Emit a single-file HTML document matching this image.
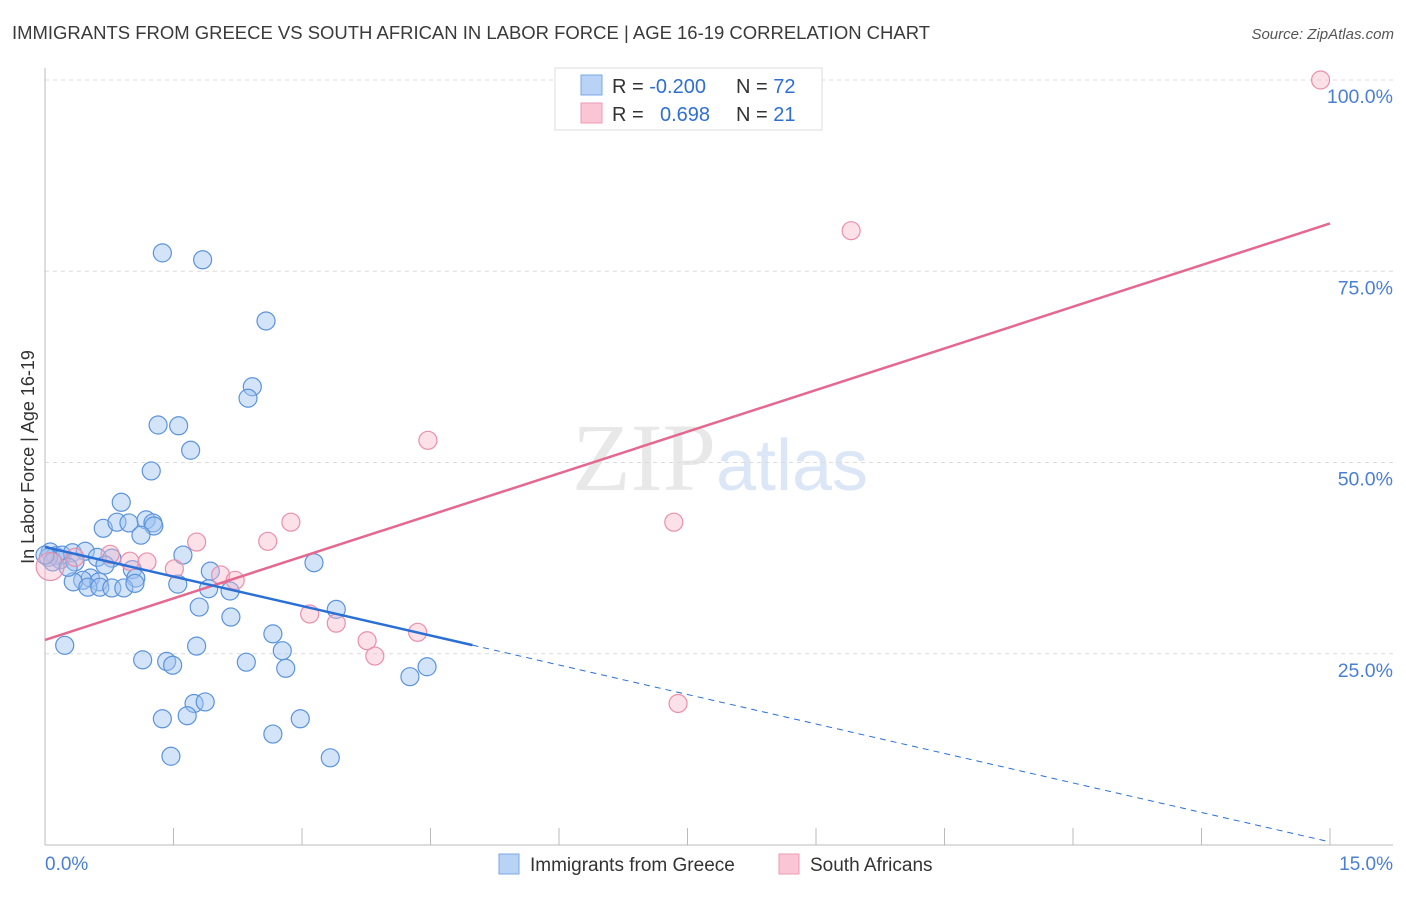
<!DOCTYPE html>
<html><head><meta charset="utf-8"><style>
body{margin:0;background:#fff;font-family:"Liberation Sans",sans-serif}
</style></head><body>
<svg id="chart" width="1406" height="892" xmlns="http://www.w3.org/2000/svg" font-family="Liberation Sans, sans-serif">
<text x="12" y="39" font-size="18" fill="#3a3a3a" textLength="918" lengthAdjust="spacingAndGlyphs">IMMIGRANTS FROM GREECE VS SOUTH AFRICAN IN LABOR FORCE | AGE 16-19 CORRELATION CHART</text>
<text x="1394" y="39" font-size="15" fill="#555" text-anchor="end" font-style="italic">Source: ZipAtlas.com</text>
<text x="720" y="490" font-size="96" fill="#e8e8e8" text-anchor="middle" font-family="Liberation Serif, serif">ZIP<tspan fill="#dbe6f6" font-family="Liberation Sans, sans-serif" font-size="72">atlas</tspan></text>
<g id="grid"></g>
<g id="axes"></g>
<g id="marks"></g>
<text transform="translate(34,457) rotate(-90)" font-size="18" fill="#333" text-anchor="middle">In Labor Force | Age 16-19</text>
<text x="45" y="870" font-size="19" fill="#4a7fd4">0.0%</text>
<text x="1393" y="870" font-size="19" fill="#4a7fd4" text-anchor="end">15.0%</text>
<g>
<rect x="555" y="68" width="267" height="62" fill="#fff" stroke="#ddd"/>
<rect x="581" y="75" width="21" height="20" fill="#b8d3f5" stroke="#7aa8e6"/>
<rect x="581" y="103" width="21" height="20" fill="#fac6d6" stroke="#ef9ab3"/>
<text x="612" y="93" font-size="20" fill="#333">R = <tspan fill="#2f6fd0">-0.200</tspan></text>
<text x="736" y="93" font-size="20" fill="#333">N = <tspan fill="#2f6fd0">72</tspan></text>
<text x="612" y="121" font-size="20" fill="#333">R = <tspan fill="#2f6fd0" x="660">0.698</tspan></text>
<text x="736" y="121" font-size="20" fill="#333">N = <tspan fill="#2f6fd0">21</tspan></text>
</g>
<g>
<rect x="499" y="854" width="20" height="20" fill="#b8d3f5" stroke="#7aa8e6"/>
<text x="530" y="871" font-size="19" fill="#333">Immigrants from Greece</text>
<rect x="779" y="854" width="20" height="20" fill="#fac6d6" stroke="#ef9ab3"/>
<text x="810" y="871" font-size="19" fill="#333">South Africans</text>
</g>
</svg>
<script>
const yTicks=[25,50,75,100];
const yTickLabels=["25.0%","50.0%","75.0%","100.0%"];
const xTicks=[0,1.5,3,4.5,6,7.5,9,10.5,12,13.5,15];
const greeceX=[1.37,1.84,2.58,2.42,2.37,1.32,1.56,1.70,1.24,0.89,0.68,0.84,0.98,1.18,1.26,1.27,1.12,0.06,0.12,0.2,0.32,0.47,0.61,0.78,0.18,0.35,0.70,1.02,1.61,3.14,1.93,1.06,0.53,0.44,0.33,0.63,0.50,0.64,0.78,0.92,1.05,1.55,1.91,2.16,1.80,3.40,2.17,2.66,2.77,0.23,1.77,1.14,1.42,1.49,2.35,2.81,4.46,4.26,1.74,1.87,1.66,1.37,2.98,2.66,1.47,3.33,0.04,0.09,0.27,0.0];
const greeceY=[77.4,76.5,68.5,59.9,58.4,54.9,54.8,51.6,48.9,44.8,41.4,42.2,42.1,42.5,42.1,41.7,40.5,38.3,37.8,37.9,38.2,38.4,37.6,37.5,37.3,37.0,36.6,36.0,37.9,36.9,35.8,34.9,34.9,34.6,34.4,34.4,33.7,33.7,33.6,33.6,34.2,34.1,33.5,33.2,31.1,30.8,29.8,27.6,25.4,26.1,26.0,24.2,24.0,23.5,23.9,23.1,23.3,22.0,18.5,18.7,16.9,16.5,16.5,14.5,11.6,11.4,37.6,37.0,36.3,37.9];
const saX=[14.89,9.41,4.47,7.34,2.87,2.60,1.77,0.76,0.99,1.19,1.51,2.05,2.22,3.09,3.40,3.76,3.85,4.35,7.39,0.06,0.35];
const saY=[100,80.3,52.9,42.2,42.2,39.7,39.6,38.0,37.1,37.0,36.1,35.3,34.6,30.2,29.0,26.7,24.7,27.8,18.5,36.4,37.6];
const blueLine={a:38.95,b:-2.57,solidEnd:4.99};
const pinkLine={a:26.8,b:3.63};
const X=v=>45+v/15*1285, Y=v=>845-v*7.65;
const NS="http://www.w3.org/2000/svg";
function mk(tag,attrs,parent){const e=document.createElementNS(NS,tag);for(const k in attrs)e.setAttribute(k,attrs[k]);document.getElementById(parent).appendChild(e);return e;}
yTicks.forEach((t,i)=>{
 const g=mk('line',{x1:45,x2:1393,y1:Y(t),y2:Y(t),stroke:'#dcdcdc','stroke-dasharray':'4,4'},'grid');
 
 
 const tx=mk('text',{x:1393,y:Y(t)+23,'font-size':19.5,fill:'#4a7fd4','text-anchor':'end'},'grid');
 tx.textContent=yTickLabels[i];
 
 
});
let ax=mk('line',{x1:45,x2:45,y1:68,y2:845,stroke:'#bbb'},'axes');


ax=mk('line',{x1:45,x2:1393,y1:845,y2:845,stroke:'#bbb'},'axes');


xTicks.forEach(t=>{
 const l=mk('line',{x1:X(t),x2:X(t),y1:828,y2:845,stroke:'#bbb'},'axes');
 
 
});
greeceX.forEach((x,i)=>{
 const c=mk('circle',{cx:X(x),cy:Y(greeceY[i]),r:9,fill:'rgba(160,195,240,0.45)',stroke:'#5b93dc','stroke-width':1.2},'marks');
 
 
});
saX.forEach((x,i)=>{
 const c=mk('circle',{cx:X(x),cy:Y(saY[i]),r:i==19?14:9,fill:'rgba(248,180,200,0.4)',stroke:'#ea8fab','stroke-width':1.2},'marks');
 
 
});
let l=mk('line',{x1:X(0),y1:Y(pinkLine.a),x2:X(15),y2:Y(pinkLine.a+pinkLine.b*15),stroke:'#e4688f','stroke-width':2.5},'marks');


l=mk('line',{x1:X(0),y1:Y(blueLine.a),x2:X(blueLine.solidEnd),y2:Y(blueLine.a+blueLine.b*blueLine.solidEnd),stroke:'#2a6fd6','stroke-width':2.5},'marks');


l=mk('line',{x1:X(blueLine.solidEnd),y1:Y(blueLine.a+blueLine.b*blueLine.solidEnd),x2:X(15),y2:Y(blueLine.a+blueLine.b*15),stroke:'#2a6fd6','stroke-width':1,'stroke-dasharray':'6,5'},'marks');


</script>
</body></html>
